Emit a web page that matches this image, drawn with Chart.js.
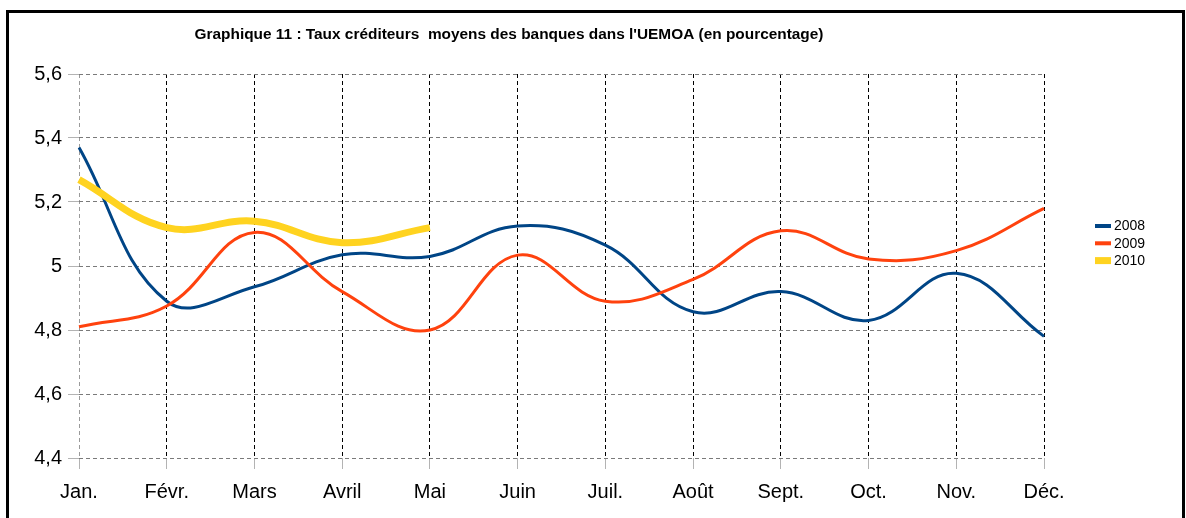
<!DOCTYPE html>
<html><head><meta charset="utf-8">
<script src="https://cdn.jsdelivr.net/npm/chart.js@4/dist/chart.umd.min.js"></script>
<style>
html,body{margin:0;padding:0;background:#fff;}
#wrap{position:relative;width:1186px;height:518px;overflow:hidden;background:#fff;}
#frame{position:absolute;left:6px;top:10px;width:1179px;height:530px;border:3px solid #000;box-sizing:border-box;pointer-events:none;}
canvas{position:absolute;left:0;top:0;}
</style></head><body>
<div id="wrap"><canvas id="c" width="1186" height="518"></canvas><div id="frame"></div></div>
<script>
const chartTitle = "Graphique 11 : Taux créditeurs  moyens des banques dans l'UEMOA (en pourcentage)";
const categories = ['Jan.', 'Févr.', 'Mars', 'Avril', 'Mai', 'Juin', 'Juil.', 'Août', 'Sept.', 'Oct.', 'Nov.', 'Déc.'];
const seriesNames = ['2008', '2009', '2010'];
const values2008 = [5.37, 4.89, 4.935, 5.035, 5.03, 5.125, 5.065, 4.857, 4.92, 4.83, 4.977, 4.78];
const values2009 = [4.81, 4.875, 5.105, 4.92, 4.80, 5.034, 4.89, 4.958, 5.11, 5.022, 5.048, 5.18];
const values2010 = [5.27, 5.12, 5.14, 5.073, 5.12];
const yTicks = [4.4, 4.6, 4.8, 5.0, 5.2, 5.4, 5.6];

const colors = ['#004586', '#ff420e', '#ffd320'];
const widths = [3, 3, 7];
const FONT = '"Liberation Sans", Arial, sans-serif';

const titlePlugin = {
  id: 'customTitle',
  afterDraw(chart) {
    const ctx = chart.ctx;
    ctx.save();
    ctx.font = 'bold 14px ' + FONT;
    ctx.fillStyle = '#000';
    ctx.textAlign = 'center';
    ctx.textBaseline = 'middle';
    ctx.translate(509, 35);
    ctx.scale(1.1, 1);
    ctx.fillText(chartTitle, 0, 0);
    ctx.restore();
  }
};

const legendPlugin = {
  id: 'customLegend',
  afterDraw(chart) {
    const ctx = chart.ctx;
    ctx.save();
    ctx.font = '14px ' + FONT;
    ctx.fillStyle = '#000';
    ctx.textAlign = 'left';
    ctx.textBaseline = 'middle';
    chart.data.datasets.forEach((ds, i) => {
      const y = 226 + i * 17.3;
      const h = i === 2 ? 7 : 4;
      ctx.fillStyle = ds.borderColor;
      ctx.fillRect(1095, y - h / 2, 16, h);
      ctx.fillStyle = '#000';
      ctx.fillText(ds.label, 1114, y + 0.5);
    });
    ctx.restore();
  }
};

const fmt = v => {
  const n = Number(Number(v).toFixed(1));
  return String(n).replace('.', ',');
};

new Chart(document.getElementById('c'), {
  type: 'line',
  data: {
    labels: categories,
    datasets: [
      { label: seriesNames[0], data: values2008, borderColor: colors[0], backgroundColor: colors[0], borderWidth: widths[0], order: 3 },
      { label: seriesNames[1], data: values2009, borderColor: colors[1], backgroundColor: colors[1], borderWidth: widths[1], order: 2 },
      { label: seriesNames[2], data: values2010, borderColor: colors[2], backgroundColor: colors[2], borderWidth: widths[2], order: 1 }
    ]
  },
  options: {
    responsive: false,
    animation: false,
    devicePixelRatio: 1,
    layout: { padding: { top: 74, right: 142, left: 0, bottom: 0 } },
    elements: {
      point: { radius: 0, hoverRadius: 0 },
      line: { tension: 0.4, fill: false, borderCapStyle: 'butt', borderJoinStyle: 'round' }
    },
    plugins: {
      legend: { display: false },
      title: { display: false },
      tooltip: { enabled: false }
    },
    scales: {
      x: {
        type: 'category',
        offset: false,
        afterFit(scale) { scale.height = 60; },
        grid: {
          color: ctx => ctx.index === 0 ? '#9a9a9a' : '#000000',
          lineWidth: 1,
          drawTicks: true,
          tickLength: 11,
          tickColor: '#b3b3b3',
          tickBorderDash: [],
          tickWidth: 1
        },
        border: { display: false, dash: [4, 3] },
        ticks: {
          color: '#000',
          font: { family: FONT, size: 20 },
          padding: 11,
          maxRotation: 0,
          autoSkip: false
        }
      },
      y: {
        min: 4.4,
        max: 5.6,
        afterFit(scale) { scale.width = 79; },
        afterBuildTicks(scale) { scale.ticks = yTicks.map(v => ({ value: v })); },
        grid: {
          color: '#7a7a7a',
          lineWidth: 1,
          drawTicks: true,
          tickLength: 11,
          tickColor: '#b3b3b3',
          tickBorderDash: [],
          tickWidth: 1
        },
        border: { display: false, dash: [4, 3] },
        ticks: {
          color: '#000',
          font: { family: FONT, size: 20 },
          padding: 6,
          callback: v => fmt(v)
        }
      }
    }
  },
  plugins: [titlePlugin, legendPlugin]
});
</script>
</body></html>
